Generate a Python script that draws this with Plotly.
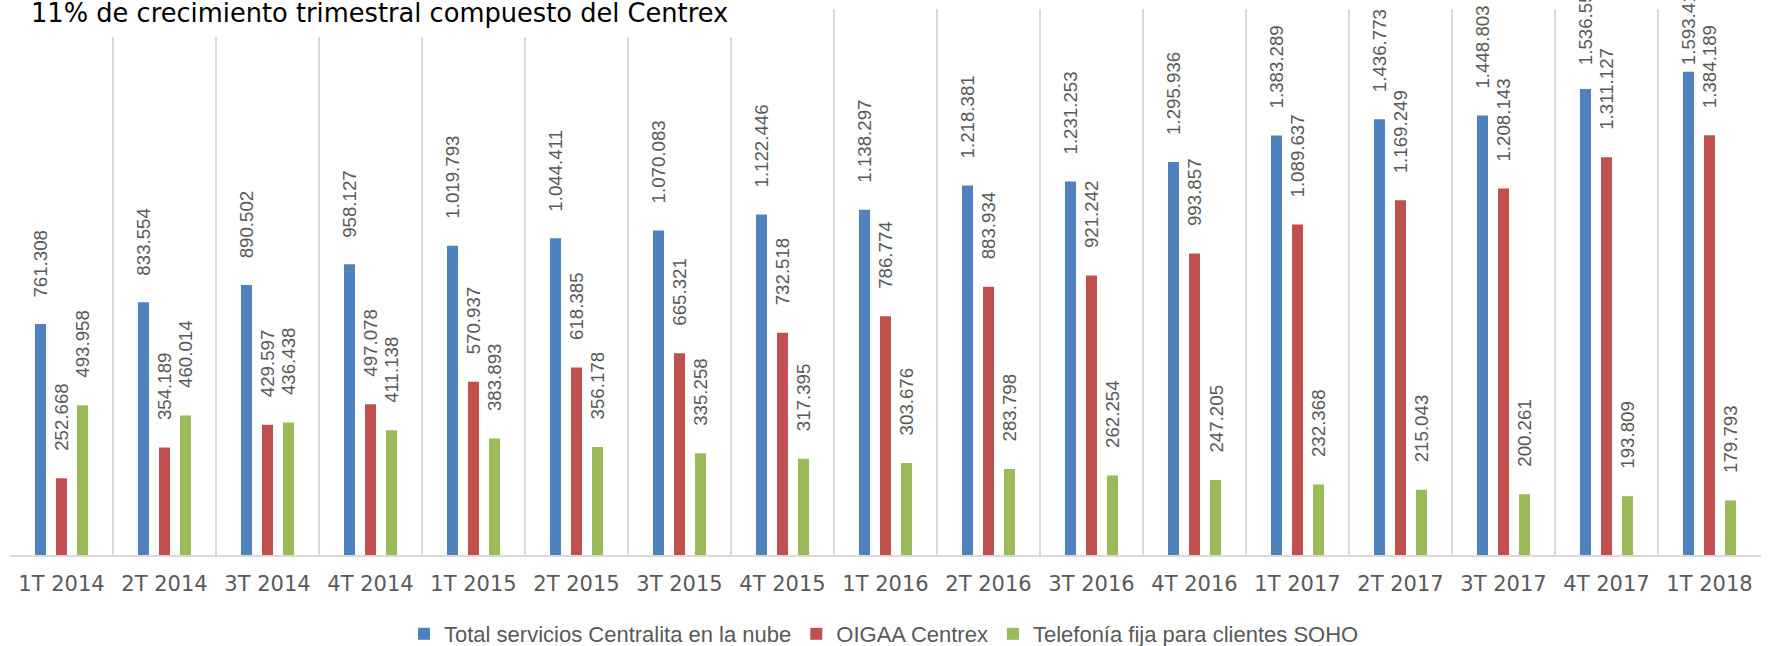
import plotly.graph_objects as go

categories = ["1T 2014", "2T 2014", "3T 2014", "4T 2014", "1T 2015", "2T 2015", "3T 2015", "4T 2015",
              "1T 2016", "2T 2016", "3T 2016", "4T 2016", "1T 2017", "2T 2017", "3T 2017", "4T 2017", "1T 2018"]

total_nube = [761308, 833554, 890502, 958127, 1019793, 1044411, 1070083, 1122446, 1138297,
              1218381, 1231253, 1295936, 1383289, 1436773, 1448803, 1536555, 1593410]
oigaa_centrex = [252668, 354189, 429597, 497078, 570937, 618385, 665321, 732518, 786774,
                 883934, 921242, 993857, 1089637, 1169249, 1208143, 1311127, 1384189]
telefonia_soho = [493958, 460014, 436438, 411138, 383893, 356178, 335258, 317395, 303676,
                  283798, 262254, 247205, 232368, 215043, 200261, 193809, 179793]

series_names = ["Total servicios Centralita en la nube", "OIGAA Centrex", "Telefonía fija para clientes SOHO"]
series_values = [total_nube, oigaa_centrex, telefonia_soho]
series_colors = ["#4F81BD", "#C0504D", "#9BBB59"]

title_text = "11% de crecimiento trimestral compuesto del Centrex"

W, H = 1768, 646
ML, MR, MT, MB = 10, 7, 9, 91
BARGAP = 0.388
BARGROUPGAP = 0.476
YMAX = 1800000
plot_w = W - ML - MR
plot_h = H - MT - MB

LABEL_GAP = 25        # yshift between bar top and its label
CHART_TOP = -21       # labels are kept below this (chart-area top, above the cropped picture)
CHAR_PX = 9.8         # approx. label advance per character

def fmt(v):
    return f"{v:,}".replace(",", ".")

fig = go.Figure()
for name, vals, col in zip(series_names, series_values, series_colors):
    fig.add_trace(go.Bar(x=categories, y=vals, name=name, marker=dict(color=col, line=dict(width=0))))

annotations = []
slot = (1 - BARGAP) / len(series_values)
for k, vals in enumerate(series_values):
    off = (k - (len(series_values) - 1) / 2) * slot
    for i, v in enumerate(vals):
        txt = fmt(v)
        bar_top_px = MT + plot_h * (1 - v / YMAX)
        shift = min(LABEL_GAP, bar_top_px - (CHART_TOP + CHAR_PX * len(txt)))
        annotations.append(dict(
            x=i + off, y=v, xref="x", yref="y", text=txt, showarrow=False,
            textangle=-90, yanchor="bottom", xanchor="center", yshift=shift,
            font=dict(family="Liberation Sans, Arial, sans-serif", size=18.7, color="#595959")))

annotations.append(dict(
    x=(29 - ML) / plot_w, y=(H - MB - 13) / plot_h, xref="paper", yref="paper",
    text=title_text, showarrow=False, xanchor="left", yanchor="middle",
    font=dict(family="DejaVu Sans, sans-serif", size=25.7, color="#000000")))

fig.update_layout(
    width=W, height=H,
    margin=dict(l=ML, r=MR, t=MT, b=MB, pad=0, autoexpand=False),
    paper_bgcolor="white", plot_bgcolor="white",
    barmode="group", bargap=BARGAP, bargroupgap=BARGROUPGAP,
    showlegend=True,
    legend=dict(orientation="h", x=(884 - ML) / plot_w, xanchor="center",
                y=(H - MB - 634) / plot_h, yanchor="middle",
                font=dict(family="Liberation Sans, Arial, sans-serif", size=22, color="#595959"),
                itemwidth=30, bgcolor="rgba(0,0,0,0)"),
    xaxis=dict(type="category", tickson="boundaries", showgrid=True, gridcolor="#D9D9D9", gridwidth=2,
               showline=True, linecolor="#D9D9D9", linewidth=2, ticks="", ticklabelstandoff=9,
               tickfont=dict(family="DejaVu Sans, sans-serif", size=21, color="#595959"),
               range=[-0.5, len(categories) - 0.5]),
    yaxis=dict(range=[0, YMAX], visible=False, showgrid=False, zeroline=False),
    annotations=annotations,
    shapes=[dict(type="rect", xref="paper", yref="paper",
                 x0=(12 - ML) / plot_w, x1=(745 - ML) / plot_w,
                 y0=(H - MB - 37) / plot_h, y1=1.05,
                 fillcolor="white", line=dict(width=0), layer="above")],
)

fig.write_html("out.html", config={"displayModeBar": False},
               post_script="document.body.style.margin='0';")
